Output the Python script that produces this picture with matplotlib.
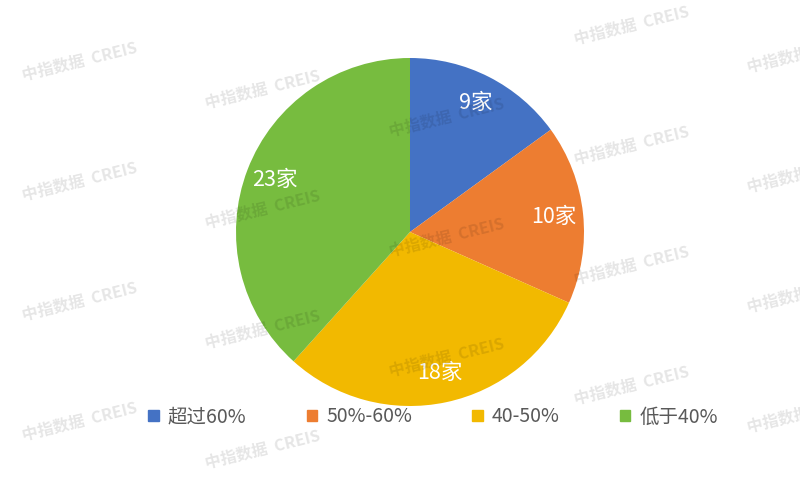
import matplotlib.pyplot as plt
from matplotlib.patches import Patch

plt.rcParams['font.family'] = ['Noto Sans CJK SC', 'DejaVu Sans']

# Data
categories = ['超过60%', '50%-60%', '40-50%', '低于40%']
counts = [9, 10, 18, 23]
labels = ['9家', '10家', '18家', '23家']
colors = ['#4472C4', '#ED7D31', '#F2B900', '#77BC3F']

fig = plt.figure(figsize=(8, 5), dpi=100)

ax = fig.add_axes([(410 - 174) / 800, (500 - 406) / 500, 348 / 800, 348 / 500])
wedges, texts = ax.pie(counts, labels=labels, colors=colors, startangle=90,
                       counterclock=False, labeldistance=0.83,
                       textprops=dict(color='white', fontsize=15.5))
for t in texts:
    t.set_ha('center')
    t.set_va('center')
ax.set_aspect('equal')
ax.set_xlim(-1, 1)
ax.set_ylim(-1, 1)
ax.axis('off')
ax.patch.set_alpha(0)

handles = [Patch(color=c) for c in colors]
fig.legend(handles, categories, loc='center', bbox_to_anchor=(433 / 800, 1 - 417 / 500),
           ncol=4, frameon=False, fontsize=14, handlelength=0.55, handleheight=0.55,
           columnspacing=3.1, handletextpad=0.45, labelcolor='#595959')

# watermark
for col, x in enumerate([80, 263, 447, 632, 805]):
    for row in range(-1, 5):
        y = 62 + col * 28 + row * 120
        if y < 25 or y > 475:
            continue
        fig.text(x / 800, 1 - y / 500, '中指数据  CREIS', fontsize=11.5, fontweight='bold',
                 color='black', alpha=0.1, rotation=14, ha='center', va='center', zorder=10)

fig.savefig('out.png', dpi=100)
